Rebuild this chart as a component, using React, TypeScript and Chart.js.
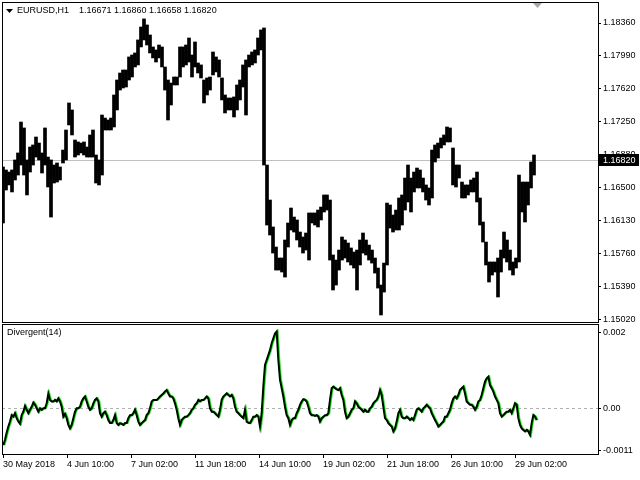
import React, { useEffect, useRef } from "react";
import { Chart, registerables } from "chart.js";

Chart.register(...registerables);

// ---------- data ----------
const SYMBOL = "EURUSD,H1";
const OHLC_LAST = ["1.16671", "1.16860", "1.16658", "1.16820"];
const LAST_PRICE = 1.1682;
const HOURS_PER_BAR = 3; // each bar below summarises 3 hourly bars

const HIGH = [
  1.16736, 1.16702, 1.16679, 1.16702, 1.16815, 1.16894, 1.17243, 1.17176, 1.16815, 1.16961,
  1.16984, 1.17074, 1.17006, 1.16894, 1.17176, 1.16848, 1.16815, 1.16758, 1.16781, 1.16736,
  1.16927, 1.17153, 1.17458, 1.17379, 1.17040, 1.17018, 1.17006, 1.17018, 1.16961, 1.17097,
  1.17153, 1.16871, 1.16815, 1.17322, 1.17288, 1.17266, 1.17288, 1.17548, 1.17717, 1.17796,
  1.17830, 1.17830, 1.17977, 1.17999, 1.18022, 1.18169, 1.18315, 1.18406, 1.18338, 1.18225,
  1.18090, 1.18056, 1.18112, 1.18090, 1.17864, 1.17717, 1.17683, 1.17751, 1.17751, 1.18090,
  1.18090, 1.18112, 1.18191, 1.17999, 1.18146, 1.17909, 1.17887, 1.17717, 1.17740, 1.17751,
  1.18033, 1.17977, 1.17943, 1.17740, 1.17548, 1.17514, 1.17514, 1.17526, 1.17661, 1.17717,
  1.17887, 1.17943, 1.17999, 1.18033, 1.18056, 1.18191, 1.18282, 1.18304, 1.16758, 1.16363,
  1.16059, 1.15833, 1.15709, 1.15709, 1.15912, 1.16104, 1.16273, 1.16171, 1.16138, 1.16002,
  1.15946, 1.15991, 1.16217, 1.16217, 1.16217, 1.16250, 1.16284, 1.16420, 1.16420, 1.16363,
  1.15743, 1.15686, 1.15799, 1.15946, 1.15912, 1.15878, 1.15822, 1.15776, 1.15799, 1.15912,
  1.15991, 1.15912, 1.15855, 1.15799, 1.15709, 1.15596, 1.15404, 1.15652, 1.16329, 1.16307,
  1.16194, 1.16250, 1.16386, 1.16420, 1.16611, 1.16758, 1.16611, 1.16679, 1.16724, 1.16702,
  1.16611, 1.16533, 1.16499, 1.16927, 1.16984, 1.17006, 1.17063, 1.17097, 1.17187, 1.17176,
  1.16950, 1.16758, 1.16758, 1.16566, 1.16533, 1.16533, 1.16589, 1.16611, 1.16679, 1.16386,
  1.16115, 1.15889, 1.15664, 1.15664, 1.15664, 1.15709, 1.15799, 1.16002, 1.15912, 1.15799,
  1.15664, 1.15709, 1.16645, 1.16566, 1.16566, 1.16566, 1.16792, 1.16871,
];

const LOW = [
  1.16104, 1.16476, 1.16533, 1.16454, 1.16589, 1.16645, 1.16758, 1.16645, 1.16420, 1.16679,
  1.16758, 1.16848, 1.16815, 1.16668, 1.16758, 1.16510, 1.16171, 1.16555, 1.16566, 1.16589,
  1.16781, 1.16815, 1.17210, 1.17097, 1.16848, 1.16871, 1.16894, 1.16871, 1.16848, 1.16848,
  1.16848, 1.16555, 1.16533, 1.16645, 1.17153, 1.17153, 1.17153, 1.17187, 1.17379, 1.17604,
  1.17627, 1.17638, 1.17717, 1.17751, 1.17864, 1.17887, 1.18090, 1.18169, 1.18112, 1.18022,
  1.17966, 1.17920, 1.17966, 1.17864, 1.17604, 1.17266, 1.17435, 1.17661, 1.17661, 1.17751,
  1.17864, 1.17887, 1.17920, 1.17751, 1.17864, 1.17796, 1.17740, 1.17458, 1.17548, 1.17604,
  1.17774, 1.17808, 1.17751, 1.17492, 1.17345, 1.17379, 1.17379, 1.17300, 1.17379, 1.17492,
  1.17638, 1.17322, 1.17864, 1.17887, 1.17909, 1.17999, 1.18056, 1.16758, 1.16081, 1.15968,
  1.15765, 1.15573, 1.15573, 1.15551, 1.15494, 1.15833, 1.16025, 1.16002, 1.15912, 1.15833,
  1.15765, 1.15799, 1.15686, 1.16104, 1.16081, 1.16059, 1.16138, 1.16228, 1.16250, 1.15686,
  1.15348, 1.15404, 1.15573, 1.15686, 1.15709, 1.15664, 1.15630, 1.15596, 1.15348, 1.15630,
  1.15765, 1.15743, 1.15686, 1.15652, 1.15539, 1.15370, 1.15066, 1.15325, 1.15630, 1.16047,
  1.16002, 1.16025, 1.16025, 1.16081, 1.16250, 1.16341, 1.16228, 1.16454, 1.16499, 1.16499,
  1.16454, 1.16363, 1.16307, 1.16386, 1.16792, 1.16837, 1.16950, 1.16984, 1.17018, 1.17018,
  1.16533, 1.16510, 1.16611, 1.16386, 1.16386, 1.16420, 1.16454, 1.16454, 1.16341, 1.16081,
  1.15889, 1.15630, 1.15438, 1.15517, 1.15551, 1.15269, 1.15551, 1.15709, 1.15664, 1.15573,
  1.15517, 1.15596, 1.15664, 1.16228, 1.16115, 1.16307, 1.16499, 1.16645,
];

const PRICE_TICKS = [1.1502, 1.1539, 1.1576, 1.1613, 1.165, 1.1688, 1.1725, 1.1762, 1.1799, 1.1836];
const PRICE_MIN = 1.14987;
const PRICE_MAX = 1.18597;

const DIV_NAME = "Divergent(14)";
const DIV_START_HOUR = 1 / 3;
const DIV_STEP_HOURS = 5 / 3;
const DIVERGENT = [
  -0.00097, -0.00083, -0.00064, -0.00048, -0.00035, -0.00018, -0.00022, -0.00013, -0.00026, -0.00035,
  -0.00041, -0.00018, -0.00009, 0.00006, -0.00004, -0.00013, -0.00004, 0.00004, 0.00015, 0.00009,
  0.0, -0.00009, 0.0, -0.00004, 0.0, 0.0, 0.00013, 0.00039, 0.00022, 0.00018,
  0.00018, 0.00022, 0.00018, 0.00026, 0.00018, 0.00004, -0.00022, -0.00015, -0.00026, -0.00044,
  -0.00053, -0.00044, -0.00026, -0.00009, 0.0, 0.0, 0.00004, 0.00018, 0.00026, 0.00031,
  0.00018, 0.00004, -0.00004, 0.0, 0.00013, 0.00022, 0.00026, 0.00018, -0.00013, -0.00022,
  -0.00013, -0.00009, -0.00018, -0.00031, -0.00039, -0.00039, -0.00031, -0.00018, -0.00039, -0.00044,
  -0.00039, -0.00041, -0.00044, -0.00039, -0.00039, -0.00026, -0.00018, -0.00018, -0.00013, -0.00004,
  -0.00018, -0.00035, -0.00044, -0.00039, -0.00035, -0.00031, -0.00018, -0.00013, 0.0, 0.00018,
  0.00022, 0.00022, 0.00022, 0.00026, 0.00031, 0.00035, 0.00039, 0.00044, 0.00048, 0.00039,
  0.00031, 0.00031, 0.00026, 0.00013, -0.00004, -0.00026, -0.00044, -0.00031, -0.00026, -0.00022,
  -0.00022, -0.00018, -0.00013, -0.00004, 0.0, 0.00009, 0.00013, 0.00022, 0.00018, 0.00022,
  0.00022, 0.00026, 0.00031, 0.00026, 0.0, -0.00009, -0.00009, -0.00013, -0.00018, -0.00022,
  -0.00004, 0.00022, 0.00031, 0.00035, 0.00039, 0.00035, 0.00031, 0.00035, 0.00026, 0.00004,
  -0.00009, -0.00013, -0.00018, -0.00022, -0.00026, -0.00004, -0.00035, -0.00038, -0.00039, -0.00031,
  -0.00022, -0.00022, -0.00018, -0.00022, -0.00048, -0.00013, 0.00057, 0.00114, 0.00127, 0.0014,
  0.00153, 0.00171, 0.00184, 0.00197, 0.00202, 0.00127, 0.00075, 0.00053, 0.00031, 0.00004,
  -0.00018, -0.00026, -0.00044, -0.00031, -0.00026, -0.00026, -0.00013, -0.00004, 0.00009, 0.00018,
  0.00024, 0.00022, 0.00018, 0.00004, -0.00013, -0.00018, -0.00018, -0.0002, -0.00018, -0.00022,
  -0.00035, -0.00026, -0.00022, -0.00018, -0.00018, -0.00013, 0.00022, 0.00053, 0.00057, 0.00053,
  0.0005, 0.00048, 0.00053, 0.00035, 0.00022, -0.00009, -0.00026, -0.00022, -0.00013, -0.00004,
  0.0, 0.00018, 0.00013, 0.00004, 0.0, -0.00004, -0.00009, -0.00004, -0.00009, -0.00009,
  0.0, 0.00004, 0.00013, 0.00018, 0.00022, 0.00031, 0.00048, 0.00035, 0.00004, -0.00026,
  -0.00031, -0.00039, -0.00044, -0.00048, -0.00061, -0.00053, -0.00035, -0.00013, -0.00004, -0.00022,
  -0.00026, -0.00026, -0.00022, -0.00026, -0.00031, -0.00026, -0.00031, -0.00018, -0.00004, 0.0,
  -0.00004, -0.00009, 0.0, 0.00004, 0.00009, 0.00004, 0.0, -0.00013, -0.00022, -0.00031,
  -0.00039, -0.00048, -0.00044, -0.00039, -0.00035, -0.00022, -0.00022, -0.00013, -0.00004, 0.00013,
  0.00026, 0.00031, 0.00026, 0.00035, 0.00048, 0.00053, 0.00057, 0.00039, 0.00018, 0.00013,
  0.00009, 0.00009, 0.00004, -0.00004, 0.00004, 0.00018, 0.00022, 0.00035, 0.00053, 0.0007,
  0.00079, 0.00083, 0.00061, 0.00053, 0.00044, 0.00031, 0.00022, 0.00013, -0.00013, -0.00022,
  -0.00018, -0.00013, -0.00009, -0.00009, -0.00004, -0.00013, 0.0, 0.00013, 0.00009, -0.00026,
  -0.00044, -0.00053, -0.00057, -0.00061, -0.00057, -0.00061, -0.0007, -0.00039, -0.00018, -0.00022,
  -0.00031,
];
const DIV_LEVEL = 0;
const DIV_TICKS = [0.002, 0, -0.0011];
const DIV_TICK_LABELS = ["0.002", "0.00", "-0.0011"];
const DIV_MIN = -0.001203;
const DIV_MAX = 0.002218;

const TIME_TICKS = [0, 64, 128, 192, 256, 320, 384, 448, 512];
const TIME_LABELS = [
  "30 May 2018", "4 Jun 10:00", "7 Jun 02:00", "11 Jun 18:00", "14 Jun 10:00",
  "19 Jun 02:00", "21 Jun 18:00", "26 Jun 10:00", "29 Jun 02:00",
];
const X_MIN = -1;
const X_MAX = 595;
const SHIFT_MARK_HOUR = 534;

// ---------- styles ----------
const FONT_FAMILY = "'Liberation Sans', Arial, sans-serif";
const FONT = { family: FONT_FAMILY, size: 9 };

const frame = (chart: any) => {
  const { ctx, chartArea: a } = chart;
  ctx.save();
  ctx.strokeStyle = "#000";
  ctx.lineWidth = 1;
  ctx.strokeRect(a.left + 0.5, a.top + 0.5, a.right - a.left, a.bottom - a.top);
  ctx.restore();
};

const mainDecor = {
  id: "mainDecor",
  beforeDatasetsDraw(chart: any) {
    const { ctx, chartArea: a, scales } = chart;
    const y = Math.round(scales.y.getPixelForValue(LAST_PRICE)) + 0.5;
    ctx.save();
    ctx.strokeStyle = "#c0c0c0";
    ctx.lineWidth = 1;
    ctx.beginPath();
    ctx.moveTo(a.left, y);
    ctx.lineTo(a.right, y);
    ctx.stroke();
    ctx.restore();
  },
  afterDraw(chart: any) {
    const { ctx, chartArea: a, scales } = chart;
    frame(chart);
    ctx.save();
    // price label box
    const y = Math.round(scales.y.getPixelForValue(LAST_PRICE));
    ctx.fillStyle = "#000";
    ctx.fillRect(a.right + 1, y - 6, 40, 12);
    ctx.fillStyle = "#fff";
    ctx.font = `9px ${FONT_FAMILY}`;
    ctx.textBaseline = "middle";
    ctx.textAlign = "left";
    ctx.fillText(LAST_PRICE.toFixed(5), a.right + 5, y + 0.5);
    // title
    ctx.fillStyle = "#000";
    ctx.beginPath();
    ctx.moveTo(6, 9);
    ctx.lineTo(13, 9);
    ctx.lineTo(9.5, 13);
    ctx.closePath();
    ctx.fill();
    ctx.fillText(SYMBOL, 17, 11);
    ctx.fillText(OHLC_LAST.join(" "), 79, 11);
    // chart shift marker
    const sx = Math.round(scales.x.getPixelForValue(SHIFT_MARK_HOUR)) + 0.5;
    ctx.fillStyle = "#a8a8a8";
    ctx.beginPath();
    ctx.moveTo(sx - 4.5, a.top + 1);
    ctx.lineTo(sx + 4.5, a.top + 1);
    ctx.lineTo(sx, a.top + 6);
    ctx.closePath();
    ctx.fill();
    ctx.restore();
  },
};

const subDecor = {
  id: "subDecor",
  beforeDatasetsDraw(chart: any) {
    const { ctx, chartArea: a, scales } = chart;
    const y = Math.round(scales.y.getPixelForValue(DIV_LEVEL)) + 0.5;
    ctx.save();
    ctx.strokeStyle = "#b0b0b0";
    ctx.lineWidth = 1;
    ctx.setLineDash([3, 3]);
    ctx.beginPath();
    ctx.moveTo(a.left, y);
    ctx.lineTo(a.right, y);
    ctx.stroke();
    ctx.restore();
  },
  afterDraw(chart: any) {
    const { ctx } = chart;
    frame(chart);
    ctx.save();
    ctx.fillStyle = "#000";
    ctx.font = `9px ${FONT_FAMILY}`;
    ctx.textBaseline = "middle";
    ctx.textAlign = "left";
    ctx.fillText(DIV_NAME, 7, 10);
    ctx.restore();
  },
};

const fixWidth = (s: any) => {
  s.width = 42;
  s.paddingTop = 0;
  s.paddingBottom = 0;
};

export default function App() {
  const mainRef = useRef<HTMLCanvasElement>(null);
  const subRef = useRef<HTMLCanvasElement>(null);

  useEffect(() => {
    const main = new Chart(mainRef.current as HTMLCanvasElement, {
      type: "bar",
      data: {
        datasets: [
          {
            data: HIGH.map((h, i) => ({ x: i * HOURS_PER_BAR, y: [LOW[i], h] })) as any,
            backgroundColor: "#000",
            borderWidth: 0,
            barThickness: 3,
            grouped: false,
          } as any,
        ],
      },
      options: {
        animation: false,
        responsive: false,
        devicePixelRatio: 1,
        events: [],
        layout: { padding: { left: 2, top: 2, right: 0, bottom: 1 } },
        plugins: { legend: { display: false }, tooltip: { enabled: false } },
        scales: {
          x: { type: "linear", min: X_MIN, max: X_MAX, display: false, offset: false },
          y: {
            type: "linear",
            position: "right",
            min: PRICE_MIN,
            max: PRICE_MAX,
            afterBuildTicks: (s: any) => {
              s.ticks = PRICE_TICKS.map((v) => ({ value: v }));
            },
            afterFit: fixWidth,
            grid: { drawOnChartArea: false, drawTicks: true, tickLength: 3, color: "#000" },
            border: { display: false },
            ticks: {
              callback: (v: any) => Number(v).toFixed(5),
              color: "#000",
              font: FONT,
              padding: 2,
              autoSkip: false,
            },
          },
        } as any,
      },
      plugins: [mainDecor],
    });

    const sub = new Chart(subRef.current as HTMLCanvasElement, {
      type: "line",
      data: {
        datasets: [
          {
            data: DIVERGENT.map((v, i) => ({ x: DIV_START_HOUR + i * DIV_STEP_HOURS, y: v })),
            borderColor: "#000",
            borderWidth: 2,
            pointRadius: 0,
            tension: 0,
            order: 0,
          },
          {
            data: DIVERGENT.map((v, i) => ({ x: DIV_START_HOUR + i * DIV_STEP_HOURS + 1, y: v })),
            borderColor: "#00ff00",
            borderWidth: 2,
            pointRadius: 0,
            tension: 0,
            order: 1,
          },
        ],
      },
      options: {
        animation: false,
        responsive: false,
        devicePixelRatio: 1,
        events: [],
        layout: { padding: { left: 2, top: 1, right: 0, bottom: 0 } },
        plugins: { legend: { display: false }, tooltip: { enabled: false } },
        scales: {
          x: {
            type: "linear",
            min: X_MIN,
            max: X_MAX,
            offset: false,
            afterBuildTicks: (s: any) => {
              s.ticks = TIME_TICKS.map((v) => ({ value: v }));
            },
            afterFit: (s: any) => {
              s.height = 26;
              s.paddingLeft = 0;
              s.paddingRight = 0;
            },
            grid: { drawOnChartArea: false, drawTicks: true, tickLength: 4, color: "#000" },
            border: { display: false },
            ticks: {
              callback: (_v: any, i: number) => TIME_LABELS[i],
              align: "start",
              maxRotation: 0,
              minRotation: 0,
              autoSkip: false,
              padding: 1,
              color: "#000",
              font: FONT,
            },
          },
          y: {
            type: "linear",
            position: "right",
            min: DIV_MIN,
            max: DIV_MAX,
            afterBuildTicks: (s: any) => {
              s.ticks = DIV_TICKS.map((v) => ({ value: v }));
            },
            afterFit: fixWidth,
            grid: { drawOnChartArea: false, drawTicks: true, tickLength: 3, color: "#000" },
            border: { display: false },
            ticks: {
              callback: (_v: any, i: number) => DIV_TICK_LABELS[i],
              color: "#000",
              font: FONT,
              padding: 2,
              autoSkip: false,
            },
          },
        } as any,
      },
      plugins: [subDecor],
    });

    return () => {
      main.destroy();
      sub.destroy();
    };
  }, []);

  return (
    <div style={{ position: "fixed", left: 0, top: 0, width: 640, height: 480, background: "#fff" }}>
      <canvas
        ref={mainRef}
        width={640}
        height={323}
        style={{ position: "absolute", left: 0, top: 0, width: 640, height: 323 }}
      />
      <canvas
        ref={subRef}
        width={640}
        height={157}
        style={{ position: "absolute", left: 0, top: 323, width: 640, height: 157 }}
      />
    </div>
  );
}
